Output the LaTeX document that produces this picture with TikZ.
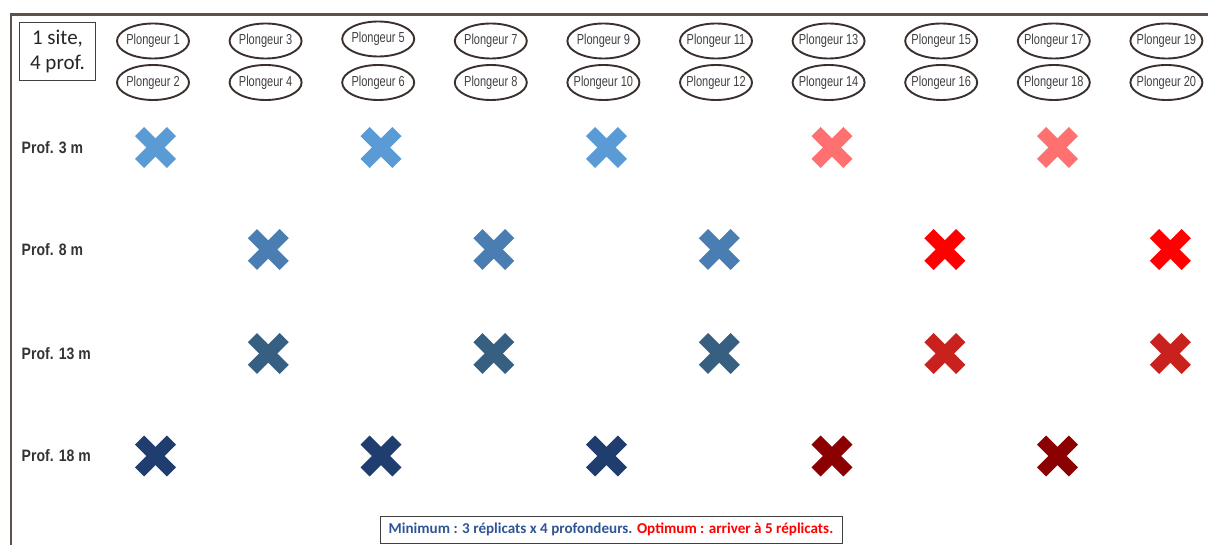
\documentclass[tikz,border=0pt]{standalone}
\usepackage{fontspec}
\usetikzlibrary{positioning,shapes.geometric}
\newfontfamily\plongfont[FakeStretch=0.76]{Liberation Sans}
\newfontfamily\proffont[FakeStretch=0.85]{Liberation Sans}
\newfontfamily\calib{Carlito}
\definecolor{cadregris}{HTML}{5E514B}
\definecolor{ellbord}{HTML}{3A302C}
\definecolor{textgris}{HTML}{404040}
\definecolor{bleutexte}{HTML}{2F5597}
\definecolor{troisbleu}{HTML}{5B9BD5}
\definecolor{troisrouge}{HTML}{FF7171}
\definecolor{huitbleu}{HTML}{4A7EB3}
\definecolor{huitrouge}{HTML}{FF0000}
\definecolor{treizebleu}{HTML}{365F82}
\definecolor{treizerouge}{HTML}{C9211E}
\definecolor{dixhuitbleu}{HTML}{1F3D6F}
\definecolor{dixhuitrouge}{HTML}{8B0000}
\tikzset{
  plong/.style = {draw=ellbord, ellipse, line width=1.9pt, minimum width=72pt,
    minimum height=35pt, inner xsep=-5pt, inner ysep=0pt, text=textgris,
    font=\plongfont\fontsize{14.5}{16}\selectfont},
  prof/.style = {anchor=west, inner sep=0pt, text=textgris!80!black,
    font=\proffont\bfseries\fontsize{16.5}{18}\selectfont},
  croix/.style = {minimum size=44pt, inner sep=0pt, path picture={
    \draw[#1, line width=13pt] ([shift={(-15.9pt,-15.9pt)}]path picture bounding box.center)
      -- ([shift={(15.9pt,15.9pt)}]path picture bounding box.center);
    \draw[#1, line width=13pt] ([shift={(-15.9pt,15.9pt)}]path picture bounding box.center)
      -- ([shift={(15.9pt,-15.9pt)}]path picture bounding box.center);}},
}
\begin{document}
\begin{tikzpicture}[x=1pt, y=-1pt, node distance={112.6pt},
    boite/.style = {draw=black!75, line width=0.8pt, minimum width=76pt, minimum height=57.6pt,
      inner sep=0pt, align=center, text=black!85, font=\calib\fontsize{21}{25}\selectfont},
    note/.style = {draw=black!75, line width=0.8pt, minimum width=462pt, minimum height=27pt,
      inner sep=0pt, font=\calib\bfseries\fontsize{15.1}{17}\selectfont}]
    \useasboundingbox (0,0) rectangle (1208,545);
    % cadre
    \draw[cadregris, line width=2.4pt] (10.8,545) -- (10.8,14.5) -- (1208,14.5);
    \node[boite] (titre) at (57.5,51.5) {1 site,\\4 prof.};
    % plongeurs
    \node[plong] (p1) at (153,41) {Plongeur 1};
    \node[plong] (p3) [right of=p1] {Plongeur 3};
    \node[plong] (p5) [right of=p3, yshift=2pt] {Plongeur 5};
    \node[plong] (p7) [right of=p3, node distance=225.2pt] {Plongeur 7};
    \node[plong] (p9) [right of=p7] {Plongeur 9};
    \node[plong] (p11) [right of=p9] {Plongeur 11};
    \node[plong] (p13) [right of=p11] {Plongeur 13};
    \node[plong] (p15) [right of=p13] {Plongeur 15};
    \node[plong] (p17) [right of=p15] {Plongeur 17};
    \node[plong] (p19) [right of=p17] {Plongeur 19};
    \node[plong] (p2) [below of=p1, node distance=41.5pt] {Plongeur 2};
    \node[plong] (p4) [below of=p3, node distance=41.5pt] {Plongeur 4};
    \node[plong] (p6) [below of=p5, node distance=43.5pt] {Plongeur 6};
    \node[plong] (p8) [below of=p7, node distance=41.5pt] {Plongeur 8};
    \node[plong] (p10) [below of=p9, node distance=41.5pt] {Plongeur 10};
    \node[plong] (p12) [below of=p11, node distance=41.5pt] {Plongeur 12};
    \node[plong] (p14) [below of=p13, node distance=41.5pt] {Plongeur 14};
    \node[plong] (p16) [below of=p15, node distance=41.5pt] {Plongeur 16};
    \node[plong] (p18) [below of=p17, node distance=41.5pt] {Plongeur 18};
    \node[plong] (p20) [below of=p19, node distance=41.5pt] {Plongeur 20};
    % profondeurs
    \node[prof] (prof3) at (21.5,147.5) {Prof. 3 m};
    \node[prof] (prof8) at (21.5,249.5) {Prof. 8 m};
    \node[prof] (prof13) at (21.5,353.5) {Prof. 13 m};
    \node[prof] (prof18) at (21.5,456) {Prof. 18 m};
    % 3 m
    \node[croix=troisbleu] (x3a) at (155.5,147.5) {};
    \node[croix=troisbleu] (x3b) at (381,147.5) {};
    \node[croix=troisbleu] (x3c) at (606.5,147.5) {};
    \node[croix=troisrouge] (x3d) at (832,147.5) {};
    \node[croix=troisrouge] (x3e) at (1057.5,147.5) {};
    % 8 m
    \node[croix=huitbleu] (x8a) at (268.3,249.5) {};
    \node[croix=huitbleu] (x8b) at (493.8,249.5) {};
    \node[croix=huitbleu] (x8c) at (719.3,249.5) {};
    \node[croix=huitrouge] (x8d) at (944.8,249.5) {};
    \node[croix=huitrouge] (x8e) at (1170.3,249.5) {};
    % 13 m
    \node[croix=treizebleu] (x13a) at (268.3,353.5) {};
    \node[croix=treizebleu] (x13b) at (493.8,353.5) {};
    \node[croix=treizebleu] (x13c) at (719.3,353.5) {};
    \node[croix=treizerouge] (x13d) at (944.8,353.5) {};
    \node[croix=treizerouge] (x13e) at (1170.3,353.5) {};
    % 18 m
    \node[croix=dixhuitbleu] (x18a) at (155.5,456) {};
    \node[croix=dixhuitbleu] (x18b) at (381,456) {};
    \node[croix=dixhuitbleu] (x18c) at (606.5,456) {};
    \node[croix=dixhuitrouge] (x18d) at (832,456) {};
    \node[croix=dixhuitrouge] (x18e) at (1057.5,456) {};
    \node[note] (remarque) at (611,529.5) {\textcolor{bleutexte}{Minimum : 3 réplicats x 4 profondeurs.} \textcolor{red}{Optimum : arriver à 5 réplicats.}};
\end{tikzpicture}
\end{document}
